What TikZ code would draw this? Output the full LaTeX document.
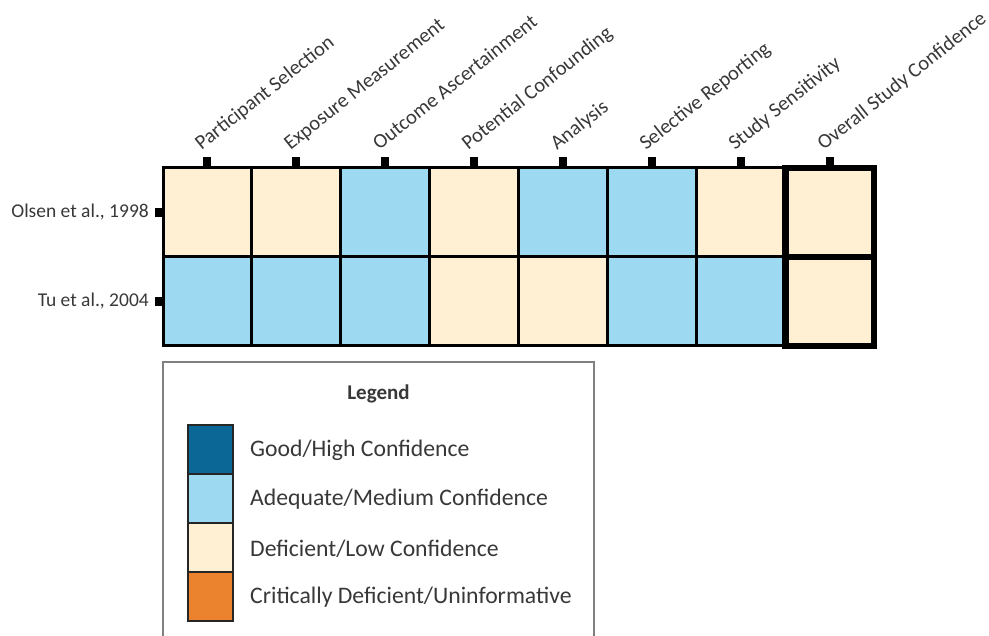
\documentclass[tikz,border=0pt]{standalone}
\usepackage{fontspec}
\setmainfont{Carlito}
\definecolor{goodblue}{HTML}{0B6795}
\definecolor{adeqblue}{HTML}{9DD9F0}
\definecolor{deficream}{HTML}{FFF0D3}
\definecolor{critorange}{HTML}{EB822E}
\definecolor{txt}{HTML}{383838}
\tikzset{
  cell/.style={draw=black, line width=3pt, inner sep=0pt, outer sep=0pt,
    minimum width=88.9pt, minimum height=89pt},
  tickmark/.style={fill=black, inner sep=0pt, outer sep=0pt},
  collabel/.style={text=txt, inner sep=0pt, anchor=base west, rotate=38.5,
    font=\fontsize{20.5}{24}\selectfont},
  rowlabel/.style={text=txt, inner sep=0pt, anchor=east,
    font=\fontsize{19.5}{23}\selectfont},
  swatch/.style={draw=black!85, line width=2pt, inner sep=0pt, outer sep=0pt,
    minimum width=45pt, minimum height=49pt},
  legtext/.style={text=txt, inner sep=0pt, anchor=west,
    font=\fontsize{23.7}{28}\selectfont},
}
\begin{document}
\begin{tikzpicture}[x=1pt, y=-1pt]
\useasboundingbox (0,0) rectangle (989,636);
\clip (0,0) rectangle (989,636);

% rating grid: two studies by eight domains
\def\cw{88.9}
\foreach \c/\fa/\fb [count=\i from 0] in {
    1/deficream/adeqblue, 2/deficream/adeqblue, 3/adeqblue/adeqblue,
    4/deficream/deficream, 5/adeqblue/deficream, 6/adeqblue/adeqblue,
    7/deficream/adeqblue, 8/deficream/deficream} {
  \pgfmathsetmacro{\cx}{163+\cw*\i+\cw/2}
  \node[cell, fill=\fa] (r1c\c) at (\cx,212.5) {};
  \node[cell, fill=\fb] (r2c\c) at (\cx,301.5) {};
  \node[tickmark, minimum width=8pt, minimum height=11pt, anchor=south]
    (t\c) at (r1c\c.north) {};
}

% heavy frame around the overall confidence column
\draw[line width=6.5pt] (r1c8.north west) rectangle (r2c8.south east);
\draw[line width=6.5pt] (r1c8.south west) -- (r1c8.south east);

% domain labels
\tikzset{labpos/.style={xshift=-6pt, yshift=6pt}}
\node[collabel] (l1) at ([labpos]t1.north) {Participant Selection};
\node[collabel] (l2) at ([labpos]t2.north) {Exposure Measurement};
\node[collabel] (l3) at ([labpos]t3.north) {Outcome Ascertainment};
\node[collabel] (l4) at ([labpos]t4.north) {Potential Confounding};
\node[collabel] (l5) at ([labpos]t5.north) {Analysis};
\node[collabel] (l6) at ([labpos]t6.north) {Selective Reporting};
\node[collabel] (l7) at ([labpos]t7.north) {Study Sensitivity};
\node[collabel] (l8) at ([labpos]t8.north) {Overall Study Confidence};

% study labels
\node[tickmark, minimum width=8pt, minimum height=9pt, anchor=east]
  (s1) at (r1c1.west) {};
\node[tickmark, minimum width=8pt, minimum height=9pt, anchor=east]
  (s2) at (r2c1.west) {};
\node[rowlabel] (olsen) at ([xshift=-6pt,yshift=1pt]s1.west) {Olsen et al., 1998};
\node[rowlabel] (tu) at ([xshift=-6pt,yshift=1pt]s2.west) {Tu et al., 2004};

% legend
\draw[draw=black!50, line width=1.3pt, fill=white] (163,362) rectangle (594,660);
\node[text=txt, font=\fontsize{21}{25}\selectfont\bfseries] (legtitle) at (378.5,394) {Legend};
\node[swatch, fill=goodblue] (k1) at (210.5,449.5) {};
\node[swatch, fill=adeqblue] (k2) at (210.5,498.5) {};
\node[swatch, fill=deficream] (k3) at (210.5,547.5) {};
\node[swatch, fill=critorange] (k4) at (210.5,596.5) {};
\node[legtext] (kt1) at (250,450.5) {Good/High Confidence};
\node[legtext] (kt2) at (250,499.5) {Adequate/Medium Confidence};
\node[legtext] (kt3) at (250,548.5) {Deficient/Low Confidence};
\node[legtext] (kt4) at (250,597.5) {Critically Deficient/Uninformative};
\end{tikzpicture}
\end{document}
